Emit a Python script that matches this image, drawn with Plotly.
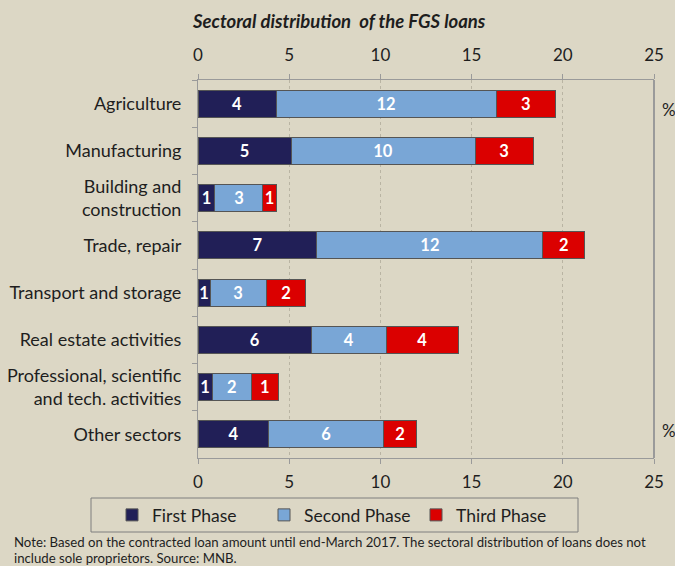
import plotly.graph_objects as go

categories = ["Agriculture", "Manufacturing", "Building and<br>construction", "Trade, repair",
              "Transport and storage", "Real estate activities",
              "Professional, scientific<br>and tech. activities", "Other sectors"]
first_phase = [4.28, 5.10, 0.93, 6.52, 0.66, 6.23, 0.77, 3.89]
second_phase = [12.06, 10.09, 2.63, 12.39, 3.07, 4.08, 2.17, 6.27]
third_phase = [3.25, 3.18, 0.72, 2.30, 2.19, 3.96, 1.45, 1.84]
series_names = ["First Phase", "Second Phase", "Third Phase"]
x_ticks = [0, 5, 10, 15, 20, 25]
note_lines = ["Note: Based on the contracted loan amount until end-March 2017. The sectoral distribution of loans does not",
              "include sole proprietors. Source: MNB."]

colors = ["#211F57", "#79A6D6", "#DB0000"]
BG = "#DCD7C5"
FONT = "Lato"
TXT = "#1E1E1E"

fig = go.Figure()
for name, vals, col in zip(series_names, [first_phase, second_phase, third_phase], colors):
    fig.add_trace(go.Bar(
        y=categories, x=vals, name=name, orientation="h",
        marker=dict(color=col, line=dict(color="#555555", width=1)),
        texttemplate="%{x:.0f}", textposition="inside", insidetextanchor="middle",
        textfont=dict(color="white", size=16.5, family=FONT, weight="bold"),
        cliponaxis=False,
    ))

# invisible trace for top axis
fig.add_trace(go.Scatter(x=[0, 25], y=[categories[0], categories[0]], xaxis="x2",
                         mode="markers", marker=dict(opacity=0), showlegend=False,
                         hoverinfo="skip"))

axis_common = dict(range=[0, 25], tickvals=x_ticks, tickfont=dict(size=17, family=FONT, color=TXT),
                   showline=True, linecolor="#9A9A9A", linewidth=1,
                   ticks="outside", ticklen=5, tickcolor="#9A9A9A",
                   zeroline=False, fixedrange=True, automargin=False)

fig.update_layout(
    width=675, height=566,
    paper_bgcolor=BG, plot_bgcolor=BG,
    margin=dict(l=198, r=21, t=80, b=108, autoexpand=False),
    barmode="stack", bargap=0.43,
    font=dict(family=FONT, color=TXT),
    uniformtext=dict(minsize=16.5, mode="show"),
    xaxis=dict(**axis_common, side="bottom", showgrid=True, gridcolor="#B9B4A3",
               griddash="dot", gridwidth=1, ticklabelstandoff=4),
    xaxis2=dict(**axis_common, side="top", overlaying="x", matches="x", showgrid=False,
                anchor="y", ticklabelstandoff=6),
    yaxis=dict(categoryorder="array", categoryarray=categories, autorange="reversed",
               showline=True, linecolor="#9A9A9A", linewidth=1, ticks="outside",
               tickson="boundaries", ticklen=5, tickcolor="#9A9A9A",
               tickfont=dict(size=18, family=FONT, color=TXT), fixedrange=True,
               ticklabelstandoff=12, automargin=False),
    showlegend=True,
    legend=dict(orientation="h", x=(112 - 198) / 456, xanchor="left",
                y=(458 - 515) / 378, yanchor="middle",
                xref="paper", yref="paper",
                font=dict(size=17.5, family=FONT, color=TXT), bgcolor="rgba(0,0,0,0)",
                traceorder="normal", entrywidth=107),
    title=dict(text="<b><i>Sectoral distribution  of the FGS loans</i></b>",
               x=193 / 675, xanchor="left", y=1 - 22 / 566, yanchor="middle",
               font=dict(size=18.5, family=FONT, color=TXT)),
)

# right border line
fig.add_shape(type="line", xref="paper", yref="paper", x0=1, x1=1, y0=0, y1=1,
              line=dict(color="#9A9A9A", width=2))
# legend box
fig.add_shape(type="rect", xref="paper", yref="paper",
              x0=(91 - 198) / 456, x1=(578 - 198) / 456,
              y0=(458 - 532) / 378, y1=(458 - 498) / 378,
              line=dict(color="#7F7F7F", width=1), fillcolor="rgba(0,0,0,0)")

fig.add_annotation(text="%", xref="paper", yref="paper", x=(660 - 198) / 456, xanchor="left",
                   y=(458 - 97) / 378, showarrow=False, font=dict(size=17, family=FONT, color=TXT))
fig.add_annotation(text="%", xref="paper", yref="paper", x=(660 - 198) / 456, xanchor="left",
                   y=(458 - 443) / 378, showarrow=False, font=dict(size=17, family=FONT, color=TXT))

for line, ypx in zip(note_lines, [542, 558]):
    fig.add_annotation(
        text=line, xref="paper", yref="paper", x=(12 - 198) / 456, y=(458 - ypx) / 378,
        xanchor="left", yanchor="middle", align="left", showarrow=False,
        font=dict(size=13.2, family=FONT, color=TXT))

fig.write_html("out.html", post_script="document.body.style.margin='0';",
               config={"displayModeBar": False})
